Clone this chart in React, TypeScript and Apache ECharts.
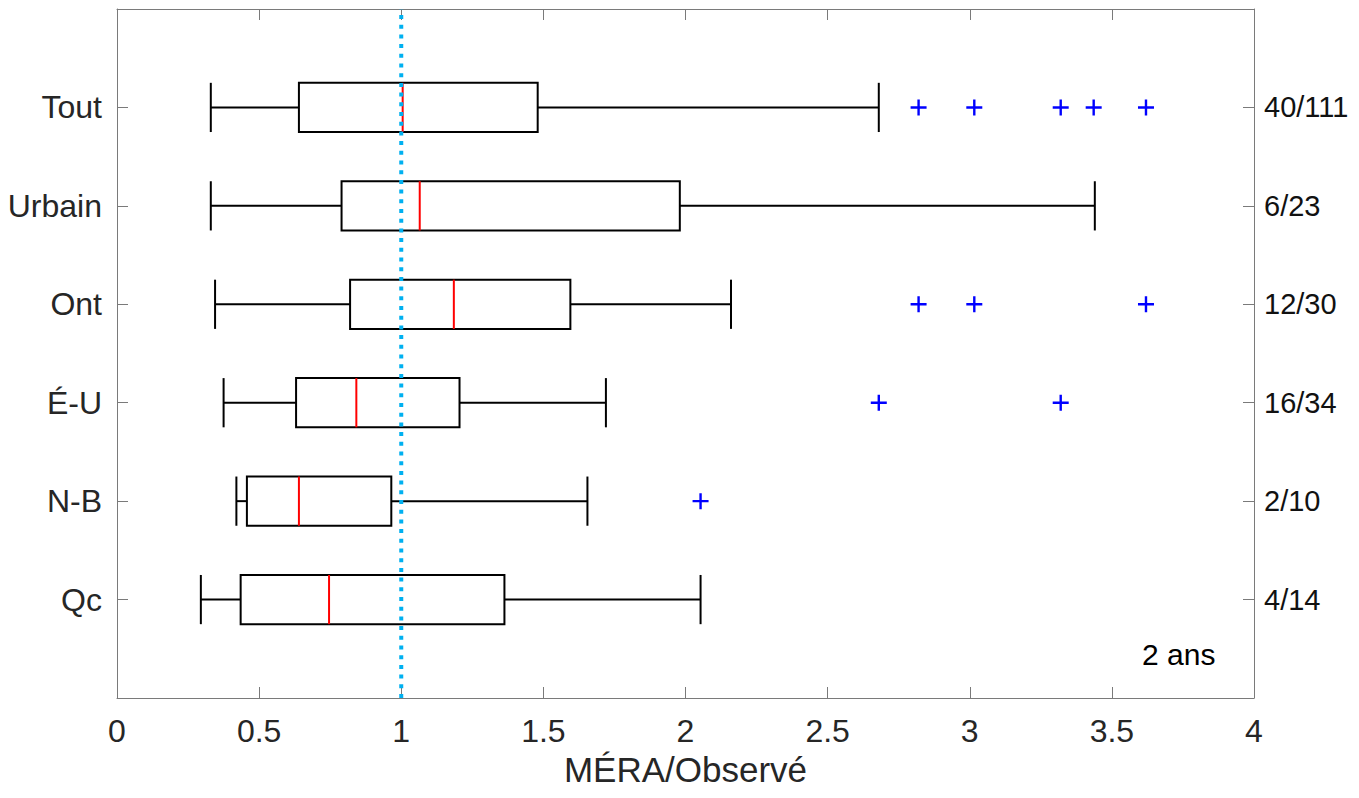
import React, { useEffect, useRef } from "react";
import * as echarts from "echarts";

// Categories listed top to bottom
const categories = ["Tout", "Urbain", "Ont", "É-U", "N-B", "Qc"];
const counts = ["40/111", "6/23", "12/30", "16/34", "2/10", "4/14"];
const lowerWhisker = [0.33, 0.33, 0.345, 0.375, 0.42, 0.295];
const q1 = [0.64, 0.79, 0.82, 0.63, 0.457, 0.435];
const median = [1.005, 1.065, 1.185, 0.842, 0.64, 0.746];
const q3 = [1.48, 1.98, 1.595, 1.205, 0.965, 1.363];
const upperWhisker = [2.68, 3.44, 2.16, 1.72, 1.655, 2.053];
const outliers: number[][] = [
  [2.82, 3.016, 3.32, 3.436, 3.62],
  [],
  [2.82, 3.016, 3.62],
  [2.68, 3.32],
  [2.053],
  [],
];
const xTicks = [0, 0.5, 1, 1.5, 2, 2.5, 3, 3.5, 4];
const referenceValue = 1;
const xTitle = "MÉRA/Observé";
const note = "2 ans";

const FONT = "'Liberation Sans', Arial, sans-serif";

export default function App() {
  const ref = useRef<HTMLDivElement>(null);
  useEffect(() => {
    if (!ref.current) return;
    const chart = echarts.init(ref.current, null, { renderer: "svg" });
    const n = categories.length;
    const pos = (i: number) => n - i;
    const leftLabel: Record<number, string> = {};
    const rightLabel: Record<number, string> = {};
    categories.forEach((c, i) => {
      leftLabel[pos(i)] = c;
      rightLabel[pos(i)] = counts[i];
    });
    const boxData = categories.map((_, i) => [
      pos(i),
      lowerWhisker[i],
      q1[i],
      median[i],
      q3[i],
      upperWhisker[i],
    ]);
    const outlierData: number[][] = [];
    outliers.forEach((arr, i) => arr.forEach((v) => outlierData.push([v, pos(i)])));

    const axisLineStyle = { color: "#7a7a7a", width: 1 };
    chart.setOption({
      animation: false,
      grid: { left: 117, right: 105, top: 9, bottom: 100, containLabel: false },
      xAxis: [
        {
          type: "value",
          min: xTicks[0],
          max: xTicks[xTicks.length - 1],
          interval: 0.5,
          position: "bottom",
          name: xTitle,
          nameLocation: "middle",
          nameGap: 52,
          nameTextStyle: { fontSize: 35, fontFamily: FONT, color: "#262626" },
          axisLine: { show: true, onZero: false, lineStyle: axisLineStyle },
          axisTick: { show: true, inside: true, length: 11, lineStyle: axisLineStyle },
          axisLabel: {
            fontSize: 32,
            fontFamily: FONT,
            color: "#262626",
            margin: 17,
            formatter: (v: number) => String(v),
          },
          splitLine: { show: false },
        },
        {
          type: "value",
          min: xTicks[0],
          max: xTicks[xTicks.length - 1],
          interval: 0.5,
          position: "top",
          axisLine: { show: true, onZero: false, lineStyle: axisLineStyle },
          axisTick: { show: true, inside: true, length: 11, lineStyle: axisLineStyle },
          axisLabel: { show: false },
          splitLine: { show: false },
        },
      ],
      yAxis: [
        {
          type: "value",
          min: 0,
          max: n + 1,
          interval: 1,
          position: "left",
          axisLine: { show: true, onZero: false, lineStyle: axisLineStyle },
          axisTick: { show: true, inside: true, length: 11, lineStyle: axisLineStyle },
          axisLabel: {
            fontSize: 32,
            fontFamily: FONT,
            color: "#262626",
            margin: 15,
            formatter: (v: number) => leftLabel[v] ?? "",
          },
          splitLine: { show: false },
        },
        {
          type: "value",
          min: 0,
          max: n + 1,
          interval: 1,
          position: "right",
          axisLine: { show: true, onZero: false, lineStyle: axisLineStyle },
          axisTick: { show: true, inside: true, length: 11, lineStyle: axisLineStyle },
          axisLabel: {
            fontSize: 29,
            fontFamily: FONT,
            color: "#111",
            margin: 10,
            formatter: (v: number) => rightLabel[v] ?? "",
          },
          splitLine: { show: false },
        },
      ],
      series: [
        {
          type: "custom",
          xAxisIndex: 0,
          yAxisIndex: 0,
          data: boxData,
          encode: { x: [1, 2, 3, 4, 5], y: 0 },
          z: 2,
          renderItem: (params: any, api: any) => {
            const p = api.value(0);
            const lo = api.coord([api.value(1), p]);
            const a = api.coord([api.value(2), p]);
            const m = api.coord([api.value(3), p]);
            const b = api.coord([api.value(4), p]);
            const hi = api.coord([api.value(5), p]);
            const h = api.size([0, 1])[1] * 0.25;
            const y = lo[1];
            const black = { stroke: "#000", lineWidth: 2, fill: null };
            return {
              type: "group",
              children: [
                { type: "line", shape: { x1: lo[0], y1: y, x2: a[0], y2: y }, style: black },
                { type: "line", shape: { x1: b[0], y1: y, x2: hi[0], y2: y }, style: black },
                { type: "line", shape: { x1: lo[0], y1: y - h, x2: lo[0], y2: y + h }, style: black },
                { type: "line", shape: { x1: hi[0], y1: y - h, x2: hi[0], y2: y + h }, style: black },
                {
                  type: "rect",
                  shape: { x: a[0], y: y - h, width: b[0] - a[0], height: 2 * h },
                  style: { stroke: "#000", lineWidth: 2, fill: "#fff" },
                },
                {
                  type: "line",
                  shape: { x1: m[0], y1: y - h, x2: m[0], y2: y + h },
                  style: { stroke: "#ff0000", lineWidth: 2 },
                },
              ],
            };
          },
        },
        {
          type: "scatter",
          xAxisIndex: 0,
          yAxisIndex: 0,
          data: outlierData,
          symbol:
            "path://M6.8,0h2.4v6.8h6.8v2.4h-6.8v6.8h-2.4v-6.8h-6.8v-2.4h6.8z",
          symbolSize: 16,
          itemStyle: { color: "#0000ff", opacity: 1 },
          z: 3,
        },
        {
          type: "line",
          xAxisIndex: 0,
          yAxisIndex: 0,
          data: [
            [referenceValue, 0],
            [referenceValue, n + 1],
          ],
          symbol: "none",
          lineStyle: { color: "#00b0f0", width: 4, type: [4, 5.7] },
          z: 4,
        },
      ],
      graphic: [
        {
          type: "text",
          x: 1142,
          y: 654,
          style: {
            text: note,
            fontSize: 30,
            fontFamily: FONT,
            fill: "#000",
            verticalAlign: "middle",
            align: "left",
          },
          z: 10,
        },
      ],
    });
    return () => chart.dispose();
  }, []);
  return (
    <div
      ref={ref}
      style={{ position: "absolute", left: 0, top: 0, width: 1359, height: 798, background: "#fff" }}
    />
  );
}
